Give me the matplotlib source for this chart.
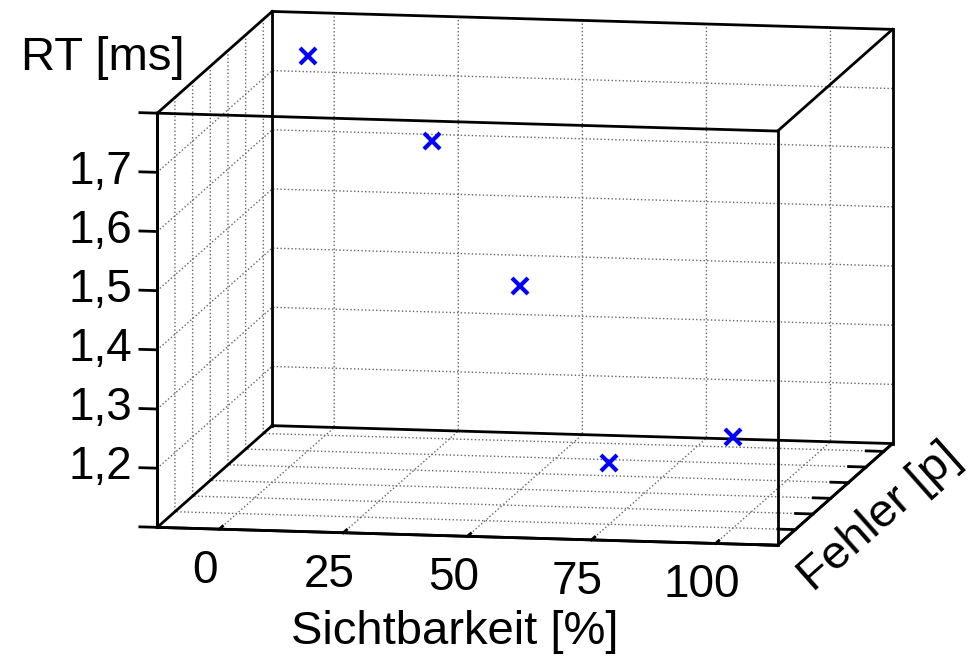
import numpy as np
import matplotlib
matplotlib.use('Agg')
import matplotlib.pyplot as plt

TICKSIZE = 33
LABELSIZE = 34

plt.rcParams['font.family'] = ['Liberation Sans', 'DejaVu Sans']
plt.rcParams['font.size'] = TICKSIZE
plt.rcParams['grid.color'] = '0.4'
plt.rcParams['grid.linestyle'] = ':'
plt.rcParams['grid.linewidth'] = 1.0
plt.rcParams['xtick.major.width'] = 2.0
plt.rcParams['ytick.major.width'] = 2.0

# data
sichtbarkeit = [0, 25, 50, 75, 100]     # x  [%]
fehler = [5, 5, 3, 1, 1]                # y  [p]
rt = [1.767, 1.629, 1.444, 1.204, 1.253]  # z  [ms]

x_ticks = [0, 25, 50, 75, 100]
x_ticklabels = ['0', '25', '50', '75', '100']
y_ticks = [0, 1, 2, 3, 4, 5, 6]
z_ticks = [1.1, 1.2, 1.3, 1.4, 1.5, 1.6, 1.7, 1.8]
z_ticklabels = ['', '1,2', '1,3', '1,4', '1,5', '1,6', '1,7', '']

xlim = (-12.5, 112.5)
ylim = (0, 6.5)
zlim = (1.1, 1.8)

fig = plt.figure(figsize=(9.68, 6.62), dpi=100)
ax = fig.add_axes([0.033, 0.066, 1.0, 1.0], projection='3d', proj_type='ortho')
ax.view_init(elev=9.2, azim=-79.76)
ax.set_box_aspect((631, 647, 420), zoom=1.46)

ax.set_xlim(*xlim)
ax.set_ylim(*ylim)
ax.set_zlim(*zlim)
ax.set_xticks(x_ticks)
ax.set_yticks(y_ticks)
ax.set_zticks(z_ticks)

# z axis on the front left edge, ticks pointing left (along x) like MATLAB
ax.zaxis.set_ticks_position('lower')
ax.zaxis._get_tickdir = lambda position='default': 0

for axis in (ax.xaxis, ax.yaxis, ax.zaxis):
    axis.pane.fill = False
    axis.pane.set_edgecolor('none')
    axis.line.set_color('black')
    axis.line.set_linewidth(2)
    axis.set_tick_params(labelbottom=False, labeltop=False)
    axis.label.set_visible(False)
    axis.offsetText.set_visible(False)
    axis._axinfo['tick']['inward_factor'] = 0.0
    axis._axinfo['tick']['outward_factor'] = 0.35

# empty title texts of the axes are not needed
for t in (ax.title, ax._left_title, ax._right_title):
    t.set_visible(False)

x0, x1 = xlim
y0, y1 = ylim
z0, z1 = zlim

# tick labels placed MATLAB-like
for xv, lab in zip(x_ticks, x_ticklabels):
    ax.text(xv, y0 - 0.79, z0 - 0.05, lab, ha='center', va='center',
            fontsize=TICKSIZE, clip_on=False)
for zv, lab in zip(z_ticks, z_ticklabels):
    if lab:
        ax.text(x0 - 5.0, y0, zv, lab, ha='right', va='center',
                fontsize=TICKSIZE, clip_on=False)

# full box
for ys in (y0, y1):
    for zs in (z0, z1):
        ax.plot([x0, x1], [ys, ys], [zs, zs], color='black', lw=2, clip_on=False)
for xs in (x0, x1):
    for zs in (z0, z1):
        ax.plot([xs, xs], [y0, y1], [zs, zs], color='black', lw=2, clip_on=False)
for xs in (x0, x1):
    for ys in (y0, y1):
        ax.plot([xs, xs], [ys, ys], [z0, z1], color='black', lw=2, clip_on=False)

ax.plot(sichtbarkeit, fehler, rt, 'x', color='blue', ms=12, mew=3, clip_on=False)

fig.text(0.106, 0.912, 'RT [ms]', ha='center', va='center', fontsize=LABELSIZE)
fig.text(0.47, 0.045, 'Sichtbarkeit [%]', ha='center', va='center', fontsize=LABELSIZE)
fig.text(0.909, 0.218, 'Fehler [p]', ha='center', va='center', rotation=41.6,
         fontsize=LABELSIZE)

fig.savefig('out.png', dpi=100)
